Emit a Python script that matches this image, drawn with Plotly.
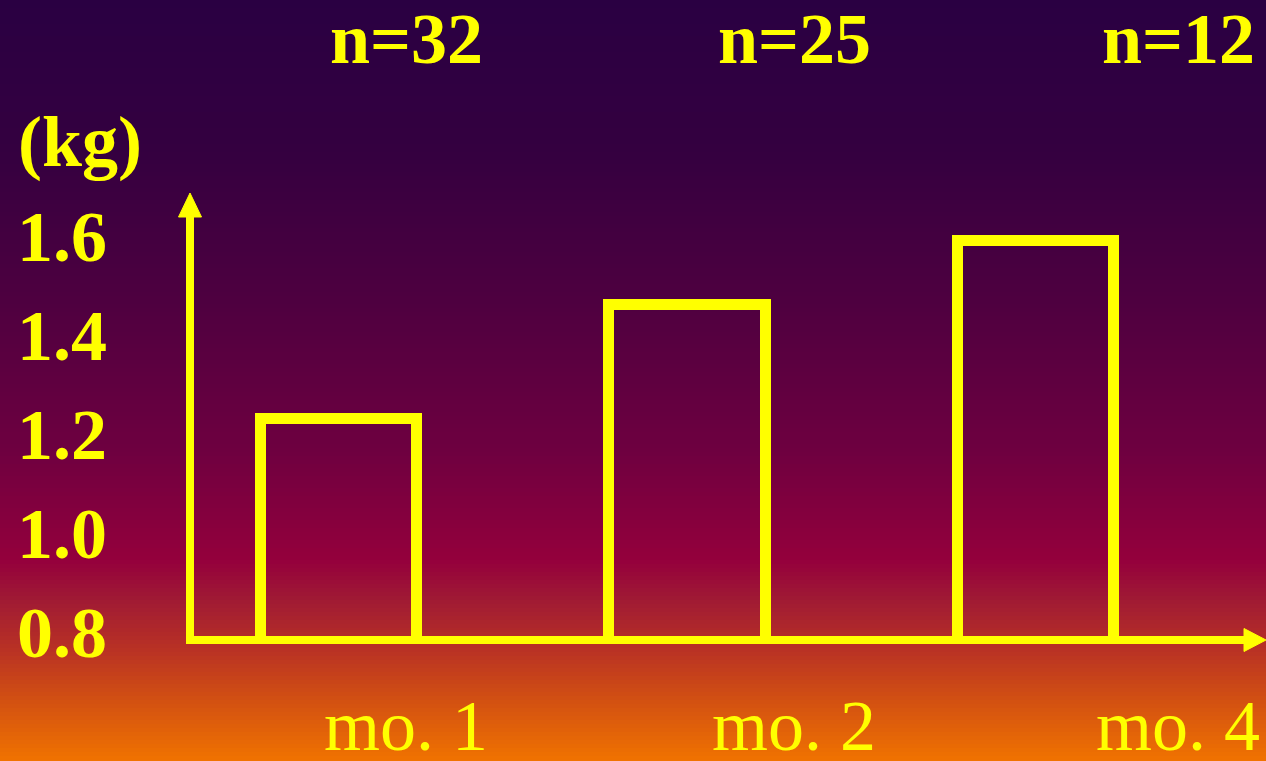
import plotly.graph_objects as go

# ---- data ----
months = ["mo. 1", "mo. 2", "mo. 4"]
sample_sizes = ["n=32", "n=25", "n=12"]
weights_kg = [1.23, 1.46, 1.59]
y_ticks = [0.8, 1.0, 1.2, 1.4, 1.6]
y_tick_labels = ["0.8", "1.0", "1.2", "1.4", "1.6"]
y_unit = "(kg)"

# ---- layout constants ----
W, H = 1266, 761
ML, MR, MT, MB = 190, 0, 193, 121
PW, PH = W - ML - MR, H - MT - MB
YELLOW = "#ffff00"
SERIF = "Liberation Serif, Times New Roman, serif"

xpos = list(range(len(months)))
px_per_x = 348.5
x0 = -(339 - ML) / px_per_x
x_range = [x0, x0 + PW / px_per_x]
px_per_y = 495.0
y_lo = 0.8 - 8 / px_per_y
y_range = [y_lo, y_lo + PH / px_per_y]

fig = go.Figure()
fig.add_trace(go.Bar(
    x=xpos, y=weights_kg, width=0.45,
    marker=dict(color="rgba(0,0,0,0)", line=dict(color=YELLOW, width=11)),
    hoverinfo="skip",
))

# background gradient (vertical)
stops = [
    (0, (42, 0, 66)), (150, (52, 0, 64)), (300, (78, 0, 64)),
    (450, (110, 0, 64)), (560, (148, 0, 60)), (600, (160, 26, 52)),
    (650, (185, 50, 36)), (700, (210, 80, 18)), (761, (240, 115, 0)),
]
def col_at(py):
    for (a, ca), (b, cb) in zip(stops[:-1], stops[1:]):
        if a <= py <= b:
            t = (py - a) / (b - a)
            return "rgb(%d,%d,%d)" % tuple(round(ca[i] + (cb[i] - ca[i]) * t) for i in range(3))
    return "rgb(%d,%d,%d)" % stops[-1][1]

shapes = []
step = 4
for py in range(0, H, step):
    shapes.append(dict(
        type="rect", xref="paper", yref="paper", layer="below",
        x0=-ML / PW - 0.01, x1=1 + 0.01,
        y0=(MT + PH - (py + step + 1)) / PH, y1=(MT + PH - py) / PH,
        fillcolor=col_at(py + step / 2), line=dict(width=0),
    ))

# axes with arrowheads
common = dict(xref="x domain", yref="y domain", xsizemode="pixel", ysizemode="pixel",
              xanchor=0, yanchor=0, layer="above")
shapes.append(dict(type="path", path="M0,-4 L0,430", line=dict(color=YELLOW, width=8), **common))
shapes.append(dict(type="path", path="M-11.5,423 L11.5,423 L0,%d Z" % PH,
                   fillcolor=YELLOW, line=dict(color=YELLOW, width=1), **common))
shapes.append(dict(type="path", path="M-3,0 L%d,0" % (PW - 12), line=dict(color=YELLOW, width=8), **common))
shapes.append(dict(type="path", path="M%d,-11.5 L%d,11.5 L%d,0 Z" % (PW - 22, PW - 22, PW),
                   fillcolor=YELLOW, line=dict(color=YELLOW, width=1), **common))

annotations = []
label_px = [406, 794, 1178]
for i, (n, m) in enumerate(zip(sample_sizes, months)):
    xp = (label_px[i] - ML) / PW
    annotations.append(dict(text="<b>%s</b>" % n, xref="paper", yref="paper",
                            x=xp, y=(MT + PH - 39) / PH, xanchor="center", yanchor="middle",
                            showarrow=False, font=dict(family=SERIF, size=72, color=YELLOW)))
    annotations.append(dict(text=m, xref="paper", yref="paper",
                            x=xp, y=(MT + PH - 726) / PH, xanchor="center", yanchor="middle",
                            showarrow=False, font=dict(family=SERIF, size=72, color=YELLOW)))
annotations.append(dict(text="<b>%s</b>" % y_unit, xref="paper", yref="paper",
                        x=(80 - ML) / PW, y=(MT + PH - 142) / PH, xanchor="center", yanchor="middle",
                        showarrow=False, font=dict(family=SERIF, size=72, color=YELLOW)))

fig.update_layout(
    width=W, height=H,
    margin=dict(l=ML, r=MR, t=MT, b=MB),
    paper_bgcolor="rgb(42,0,66)", plot_bgcolor="rgba(0,0,0,0)",
    showlegend=False, bargap=0,
    shapes=shapes, annotations=annotations,
    xaxis=dict(range=x_range, showgrid=False, zeroline=False, showline=False,
               showticklabels=False, ticks="", fixedrange=True),
    yaxis=dict(range=y_range, showgrid=False, zeroline=False, showline=False,
               tickvals=y_ticks, ticktext=["<b>%s</b>" % t for t in y_tick_labels],
               tickfont=dict(family=SERIF, size=72, color=YELLOW),
               ticks="", ticklabelstandoff=82, fixedrange=True),
)

fig.write_html(
    "out.html",
    config={"displayModeBar": False},
    post_script="document.body.style.margin='0';document.body.style.overflow='hidden';",
)
